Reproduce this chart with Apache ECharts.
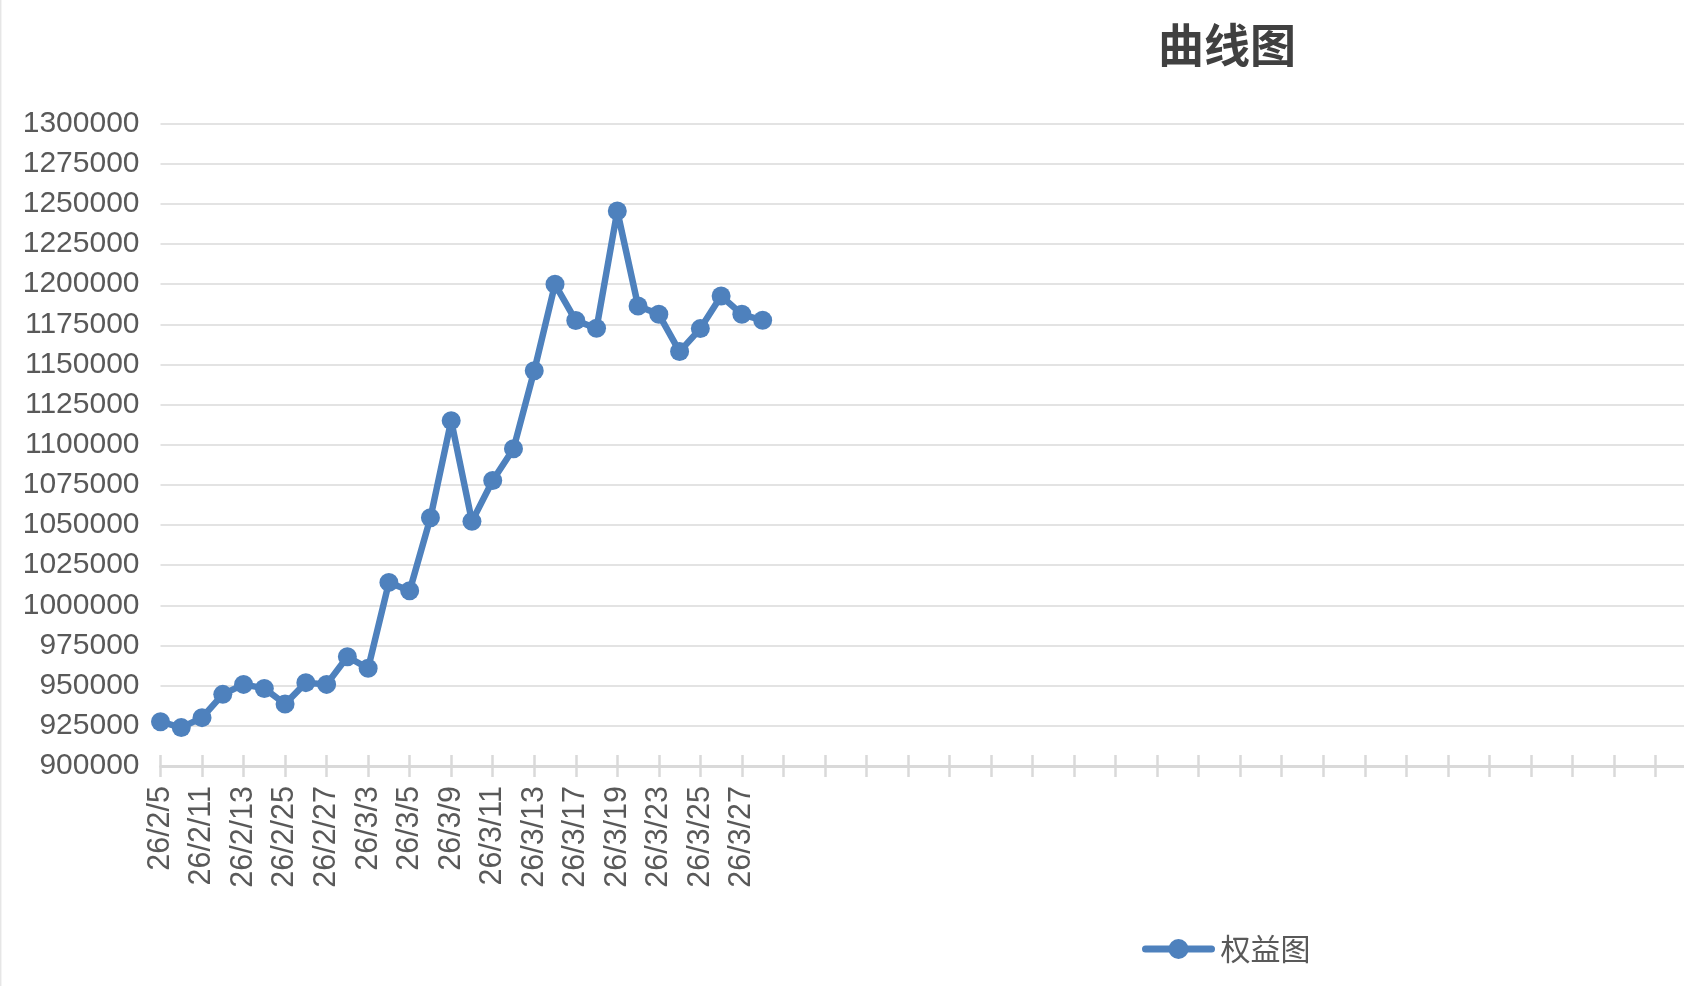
<!DOCTYPE html>
<html>
<head>
<meta charset="utf-8">
<title>曲线图</title>
<script src="https://cdn.jsdelivr.net/npm/echarts@6/dist/echarts.min.js"></script>
<style>
    html, body { margin: 0; padding: 0; background: #fff; overflow: hidden; }
    /* 图表比窗口略宽，右侧横轴伸出画面 */
    #column { width: 1697px; height: 986px; }
</style>
</head>
<body>
<div id="column"></div>
<script>
// 日期（横轴）
var dates = ['26/2/5', '26/2/10', '26/2/11', '26/2/12', '26/2/13', '26/2/24', '26/2/25', '26/2/26',
    '26/2/27', '26/3/2', '26/3/3', '26/3/4', '26/3/5', '26/3/6', '26/3/9', '26/3/10', '26/3/11',
    '26/3/12', '26/3/13', '26/3/16', '26/3/17', '26/3/18', '26/3/19', '26/3/20', '26/3/23',
    '26/3/24', '26/3/25', '26/3/26', '26/3/27', '26/3/30'];
// 权益
var equity = [927600, 923900, 930100, 944600, 950800, 948300, 938600, 951900, 950800, 968000,
    960800, 1014300, 1009100, 1054500, 1115000, 1052300, 1077700, 1097500, 1146100, 1199900,
    1177300, 1172500, 1245500, 1186400, 1181200, 1158000, 1172300, 1192600, 1181200, 1177500];
// 纵轴刻度
var yMin = 900000;
var yMax = 1300000;
var yStep = 25000;
// 横轴总格数（后面是空白日期）
var slotCount = 75;

var axisCats = dates.concat(new Array(slotCount - dates.length).fill(''));

var textFont = '"Liberation Sans", Arial, "Noto Sans CJK SC", sans-serif';
var blue = '#4e81bd';

var column = echarts.init(document.getElementById('column'));

var option = {
    backgroundColor: '#fff',
    animation: false,
    title: {
        text: '曲线图',
        left: 1153,
        top: 17,
        textStyle: {
            fontSize: 46,
            fontWeight: 'bold',
            color: '#404040',
            fontFamily: '"Noto Sans CJK SC", sans-serif'
        }
    },
    legend: {
        data: ['权益图'],
        left: 1137,
        top: 929,
        itemWidth: 66,
        itemHeight: 25,
        itemGap: 10,
        lineStyle: { width: 7, cap: 'round' },
        textStyle: {
            fontSize: 30,
            color: '#595959',
            padding: [0, 0, 0, 4],
            fontFamily: '"Noto Sans CJK SC", sans-serif'
        }
    },
    graphic: [{
        type: 'line',
        shape: { x1: 0.7, y1: 0, x2: 0.7, y2: 986 },
        style: { stroke: '#e6e6e6', lineWidth: 1.5 }
    }],
    grid: {
        left: 160.5,
        right: 0,
        top: 123.5,
        bottom: 220,
        containLabel: false
    },
    xAxis: [{
        type: 'category',
        data: axisCats,
        boundaryGap: false,
        position: 'bottom',
        axisLine: { show: true, lineStyle: { color: '#d9d9d9', width: 3 } },
        axisTick: { show: true, interval: 1, length: 11, lineStyle: { color: '#d9d9d9', width: 2.5 } },
        axisLabel: {
            interval: 1,
            rotate: 90,
            margin: 20,
            fontSize: 30.5,
            color: '#595959',
            fontFamily: textFont
        },
        splitLine: { show: false }
    }, {
        // 轴线内侧的刻度
        type: 'category',
        data: axisCats,
        boundaryGap: false,
        position: 'bottom',
        axisLine: { show: false },
        axisTick: { show: true, inside: true, interval: 1, length: 11, lineStyle: { color: '#d9d9d9', width: 2.5 } },
        axisLabel: { show: false },
        splitLine: { show: false }
    }],
    yAxis: {
        type: 'value',
        min: yMin,
        max: yMax,
        interval: yStep,
        axisLine: { show: false },
        axisTick: { show: false },
        axisLabel: {
            margin: 21,
            fontSize: 30,
            color: '#595959',
            fontFamily: textFont,
            formatter: function (value) {
                return String(value);
            }
        },
        splitLine: { show: true, lineStyle: { color: '#e3e3e3', width: 2 } }
    },
    series: [{
        name: '权益图',
        type: 'line',
        data: equity,
        symbol: 'circle',
        symbolSize: 19,
        showAllSymbol: true,
        itemStyle: { color: blue },
        lineStyle: { color: blue, width: 6.5, cap: 'round', join: 'round' }
    }]
};

column.setOption(option);
</script>
</body>
</html>
